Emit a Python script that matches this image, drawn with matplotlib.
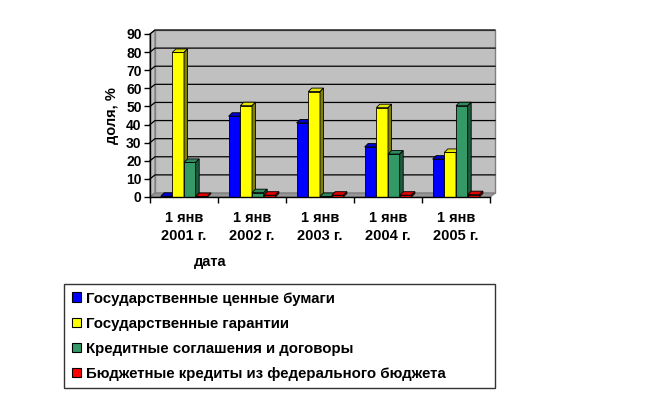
import matplotlib.pyplot as plt
import numpy as np

plt.rcParams['font.family'] = ['Liberation Sans', 'DejaVu Sans']
plt.rcParams['font.weight'] = 'bold'

dates = ["1 янв\n2001 г.", "1 янв\n2002 г.", "1 янв\n2003 г.", "1 янв\n2004 г.", "1 янв\n2005 г."]
series_names = ["Государственные ценные бумаги",
                "Государственные гарантии",
                "Кредитные соглашения и договоры",
                "Бюджетные кредиты из федерального бюджета"]
securities = [0.4, 44.6, 40.9, 27.6, 20.9]
guarantees = [79.8, 50.4, 58.2, 49.3, 24.6]
agreements = [19.1, 2.4, 0.3, 23.7, 50.4]
budget_credits = [0.3, 1.0, 1.0, 1.0, 1.3]

front_colors = ["#0000FF", "#FFFF00", "#339966", "#FF0000"]
top_colors = ["#0000CC", "#E6E600", "#2E8A5C", "#E00000"]
side_colors = ["#000080", "#808000", "#1F5C3D", "#800000"]

W, H = 645, 399
fig = plt.figure(figsize=(W / 100, H / 100), dpi=100)
ax_l, ax_r, ax_t, ax_b = 150, 490, 34, 197
ax = fig.add_axes([ax_l / W, 1 - ax_b / H, (ax_r - ax_l) / W, (ax_b - ax_t) / H])
ax.set_facecolor('none')
ax.set_xlim(0, len(dates))
ax.set_ylim(0, 90)

# pixel -> data conversion for the fake 3d depth
px_x = (ax_r - ax_l) / len(dates)
px_y = (ax_b - ax_t) / 90.0
wdx, wdy = 5 / px_x, 4 / px_y     # wall depth
bdx, bdy = 3.5 / px_x, 3.5 / px_y  # bar depth

# back wall, side wall, floor
n = len(dates)
ax.fill([wdx, n + wdx, n + wdx, wdx], [wdy, wdy, 90 + wdy, 90 + wdy],
        facecolor="#C0C0C0", edgecolor="#808080", lw=1, zorder=0, clip_on=False)
ax.fill([0, wdx, wdx, 0], [0, wdy, 90 + wdy, 90], facecolor="#C0C0C0",
        edgecolor="#808080", lw=1, zorder=0.5, clip_on=False)
ax.fill([0, n, n + wdx, wdx], [0, 0, wdy, wdy], facecolor="#969696",
        edgecolor="#808080", lw=1, zorder=0.5, clip_on=False)
for v in range(10, 91, 10):
    ax.plot([0, wdx, n + wdx], [v, v + wdy, v + wdy], color="black", lw=0.9,
            zorder=0.6, clip_on=False)

data = [securities, guarantees, agreements, budget_credits]
bw = 0.172
start = (1 - 4 * bw) / 2
z = 1
for i in range(n):
    for j, vals in enumerate(data):
        h = vals[i]
        x0 = i + start + j * bw
        x1 = x0 + bw
        ax.bar(x0, h, bw, align='edge', color=front_colors[j], edgecolor="black",
               lw=0.6, zorder=z)
        ax.fill([x0, x1, x1 + bdx, x0 + bdx], [h, h, h + bdy, h + bdy],
                facecolor=top_colors[j], edgecolor="black", lw=0.6, zorder=z,
                clip_on=False)
        ax.fill([x1, x1 + bdx, x1 + bdx, x1], [0, bdy, h + bdy, h],
                facecolor=side_colors[j], edgecolor="black", lw=0.6, zorder=z,
                clip_on=False)
        z += 1

for s in ["top", "right"]:
    ax.spines[s].set_visible(False)
for s in ["left", "bottom"]:
    ax.spines[s].set_linewidth(1)
    ax.spines[s].set_zorder(100)

ax.set_yticks(range(0, 91, 10))
ax.tick_params(axis='y', length=4, width=1, labelsize=10, pad=2)
ax.set_xticks(range(n + 1))
ax.set_xticklabels([])
ax.tick_params(axis='x', which='major', length=4, width=1)
ax.set_xticks(np.arange(n) + 0.5, minor=True)
ax.set_xticklabels(dates, minor=True, fontsize=10.5, linespacing=1.4)
ax.tick_params(axis='x', which='minor', length=0, pad=10)
ax.set_ylabel("доля, %", fontsize=10.5, fontweight='bold', labelpad=5)
fig.text(210 / W, 1 - 262 / H, "дата", fontsize=10.5, ha='center', va='center')

handles = [plt.Rectangle((0, 0), 1, 1, facecolor=c, edgecolor="black", lw=0.8)
           for c in front_colors]
leg = fig.legend(handles, series_names, loc='upper left',
                 bbox_to_anchor=(64 / W, 1 - 284 / H, 431 / W, 0), mode="expand",
                 fontsize=10.8, frameon=True, fancybox=False, borderaxespad=0,
                 handlelength=0.6, handleheight=0.6, handletextpad=0.4,
                 labelspacing=0.74, borderpad=0.5)
leg.get_frame().set_edgecolor("black")
leg.get_frame().set_linewidth(1)

fig.savefig("out.png", dpi=100)
